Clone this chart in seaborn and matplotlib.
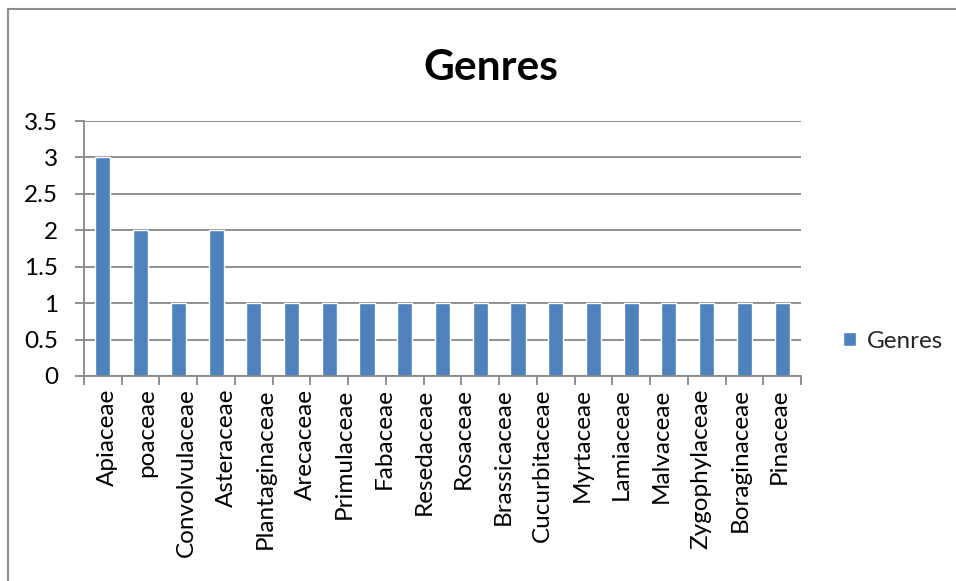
import matplotlib
matplotlib.use("Agg")
import matplotlib.pyplot as plt
from matplotlib.patches import Rectangle
import seaborn as sns
import pandas as pd

# family names shown under the axis (the last bar carries no name)
families = ["Apiaceae", "poaceae", "Convolvulaceae", "Asteraceae", "Plantaginaceae",
            "Arecaceae", "Primulaceae", "Fabaceae", "Resedaceae", "Rosaceae",
            "Brassicaceae", "Cucurbitaceae", "Myrtaceae", "Lamiaceae", "Malvaceae",
            "Zygophylaceae", "Boraginaceae", "Pinaceae"]
# number of genres per bar
genres = [3, 2, 1, 2, 1, 1, 1, 1, 1, 1, 1, 1, 1, 1, 1, 1, 1, 1, 1]
y_ticks = [0, 0.5, 1, 1.5, 2, 2.5, 3, 3.5]
y_labels = ["0", "0.5", "1", "1.5", "2", "2.5", "3", "3.5"]

n = len(genres)
df = pd.DataFrame({"rang": list(range(n)), "Genres": genres})

sns.set_theme(style="white")
plt.rcParams["font.family"] = ["Lato", "DejaVu Sans"]

W, H = 956, 581
fig = plt.figure(figsize=(W / 100, H / 100), dpi=100)
ax = fig.add_axes([84 / W, 1 - 376 / H, (801 - 84) / W, (376 - 121) / H])

blue = "#4F81BD"
grey = "#878787"
fs = 17.5

sns.barplot(data=df, x="rang", y="Genres", color=blue, width=0.4,
            saturation=1, ax=ax, label="Genres")

ax.set_xlim(-0.5, n - 0.5)
ax.set_ylim(0, 3.5)
ax.set_yticks(y_ticks)
ax.set_yticklabels(y_labels)
ax.yaxis.grid(True, color=grey, linewidth=1.3)
ax.set_axisbelow(True)
ax.set_xlabel("")
ax.set_ylabel("")

# category names are laid out on a slightly wider spacing than the bars
step = 1.048
ax.set_xticks([0.12 + step * i for i in range(len(families))])
ax.set_xticklabels(families, rotation=90)
ax.set_xticks([i - 0.5 for i in range(n + 1)], minor=True)
ax.tick_params(axis="x", which="major", length=0, pad=9, labelsize=fs, colors="black")
ax.tick_params(axis="x", which="minor", length=6.5, width=1.3, color=grey,
               direction="out", bottom=True)
ax.tick_params(axis="y", length=6.5, width=1.3, color=grey, direction="out", pad=12,
               labelsize=fs, left=True, labelcolor="black")

for side in ("top", "right"):
    ax.spines[side].set_visible(False)
for side in ("left", "bottom"):
    ax.spines[side].set_color(grey)
    ax.spines[side].set_linewidth(1.3)

fig.text(491 / W, 1 - 80 / H, "Genres", ha="center", va="baseline",
         fontsize=30.5, fontweight="bold", color="black")

ax.legend(loc="center left", bbox_to_anchor=(843 / W, 1 - 341 / H),
          bbox_transform=fig.transFigure, frameon=False, fontsize=fs,
          handlelength=0.52, handleheight=0.52, handletextpad=0.45,
          borderpad=0, borderaxespad=0)

# chart area frame
fig.patches.append(Rectangle((8 / W, -0.1), 1.2, 1 - 9 / H + 0.1,
                             transform=fig.transFigure, fill=False,
                             edgecolor="#8c8c8c", linewidth=1.5))

fig.savefig("out.png", dpi=100)
